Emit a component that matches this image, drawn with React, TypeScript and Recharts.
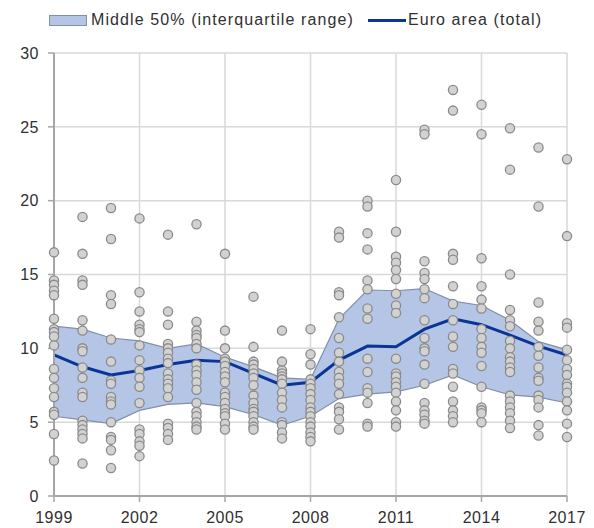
import { ComposedChart, Area, Line, Scatter, XAxis, YAxis, CartesianGrid } from "recharts";

const C = {
  band: "#b4c5e6",
  bandEdge: "#8090aa",
  euro: "#0a3597",
  grid: "#d9d9d9",
  axis: "#a6a6a6",
  dotFill: "#d2d2d2",
  dotEdge: "#8a8a8a",
  text: "#303030",
};

const years = [1999, 2000, 2001, 2002, 2003, 2004, 2005, 2006, 2007, 2008, 2009, 2010, 2011, 2012, 2013, 2014, 2015, 2016, 2017];
const xTicks = [1999, 2002, 2005, 2008, 2011, 2014, 2017];
const yTicks = [0, 5, 10, 15, 20, 25, 30];

const lowerQuartile = [5.4, 5.15, 4.9, 5.8, 6.2, 6.3, 6.05, 5.5, 4.8, 5.4, 6.6, 6.9, 7.05, 7.5, 8.2, 7.4, 6.85, 6.7, 6.3];
const upperQuartile = [11.5, 11.3, 10.7, 10.5, 10.0, 10.3, 9.4, 8.75, 8.0, 7.9, 12.0, 13.95, 13.9, 14.05, 13.2, 12.9, 11.9, 10.45, 9.9];
const euroArea = [9.55, 8.75, 8.2, 8.5, 8.9, 9.2, 9.1, 8.3, 7.5, 7.7, 9.2, 10.15, 10.1, 11.3, 12.0, 11.6, 10.9, 10.15, 9.55];

// one list of country values per year
const countryValues = [
  [16.5, 14.6, 14.3, 13.9, 13.6, 12.0, 11.3, 11.1, 10.8, 10.2, 8.6, 8.0, 7.3, 6.7, 5.7, 5.5, 4.2, 2.4],
  [18.9, 16.4, 14.6, 14.3, 11.9, 11.2, 10.0, 9.8, 8.7, 8.0, 7.0, 6.7, 5.1, 4.8, 4.5, 4.2, 3.9, 2.2],
  [19.5, 17.4, 13.6, 13.0, 10.6, 9.1, 7.8, 7.6, 6.7, 6.4, 6.2, 5.0, 4.0, 3.8, 3.1, 1.9],
  [18.8, 13.8, 12.5, 11.6, 11.3, 11.1, 10.2, 9.2, 8.5, 8.0, 7.4, 6.3, 4.5, 4.2, 3.7, 3.4, 2.7],
  [17.7, 12.5, 11.6, 10.3, 10.0, 9.7, 9.3, 9.0, 8.3, 7.9, 7.6, 7.3, 6.7, 4.9, 4.6, 4.2, 3.8],
  [18.4, 11.8, 11.2, 10.9, 10.7, 10.3, 10.0, 8.9, 8.5, 8.2, 7.7, 7.2, 6.3, 5.7, 5.4, 5.0, 4.7, 4.5],
  [16.4, 11.2, 10.0, 9.3, 9.1, 8.8, 8.4, 8.1, 7.7, 7.0, 6.7, 6.3, 5.9, 5.6, 5.4, 4.9, 4.5],
  [13.5, 10.1, 9.1, 8.9, 8.6, 8.3, 8.0, 7.5, 6.8, 6.3, 5.9, 5.7, 5.4, 5.0, 4.7, 4.5],
  [11.2, 9.1, 8.5, 8.3, 8.1, 7.9, 7.6, 7.0, 6.5, 6.0, 5.0, 4.8, 4.3, 3.9],
  [11.3, 9.6, 8.9, 7.9, 7.6, 7.3, 6.9, 6.5, 6.0, 5.7, 5.4, 5.0, 4.7, 4.3, 4.0, 3.7],
  [17.9, 17.5, 13.8, 13.6, 12.1, 10.7, 9.7, 9.1, 8.4, 8.0, 7.6, 6.9, 6.0, 5.7, 5.2, 4.5],
  [20.0, 19.6, 17.8, 16.7, 14.6, 14.0, 12.7, 12.0, 9.3, 8.4, 7.3, 7.0, 6.3, 4.9, 4.7],
  [21.4, 17.9, 16.2, 15.8, 15.3, 14.7, 13.7, 12.9, 12.4, 9.3, 8.3, 8.1, 7.7, 7.4, 7.0, 6.4, 5.8, 5.0, 4.7],
  [24.8, 24.5, 15.9, 15.1, 14.7, 14.0, 13.4, 11.9, 10.7, 10.0, 9.8, 8.9, 7.6, 6.3, 5.8, 5.5, 5.1, 4.9],
  [27.5, 26.1, 16.4, 16.0, 14.2, 13.0, 11.9, 10.8, 10.1, 8.6, 8.3, 7.4, 6.4, 5.8, 5.4, 5.0],
  [26.5, 24.5, 16.1, 14.2, 13.3, 12.7, 11.3, 10.7, 10.1, 9.7, 8.8, 7.4, 6.0, 5.8, 5.6, 5.0],
  [24.9, 22.1, 15.0, 12.6, 11.9, 11.5, 10.5, 10.0, 9.4, 9.1, 8.7, 8.4, 6.8, 6.4, 6.0, 5.6, 5.1, 4.6],
  [23.6, 19.6, 13.1, 11.8, 11.2, 10.1, 9.5, 8.7, 8.0, 7.8, 6.8, 6.5, 6.0, 4.8, 4.1],
  [22.8, 17.6, 11.7, 11.4, 9.9, 9.2, 8.6, 8.2, 7.6, 7.4, 7.0, 6.4, 5.8, 4.9, 4.0],
];

const chartData = years.map((year, i) => ({
  year,
  band: [lowerQuartile[i], upperQuartile[i]],
  euro: euroArea[i],
}));

const dotData = years.flatMap((year, i) => countryValues[i].map((value) => ({ year, value })));

const font = '"Liberation Sans", Arial, sans-serif';

function Dot(props: any) {
  const { cx, cy } = props;
  if (cx == null || cy == null) return null;
  return <circle cx={cx} cy={cy} r={4.6} fill={C.dotFill} stroke={C.dotEdge} strokeWidth={1.3} />;
}

function LegendRow() {
  return (
    <div
      style={{
        position: "absolute",
        top: 3,
        left: 41,
        display: "flex",
        alignItems: "center",
        fontFamily: font,
        fontSize: 16,
        letterSpacing: "1.1px",
        color: C.text,
        whiteSpace: "nowrap",
      }}
    >
      <span
        style={{
          display: "inline-block",
          width: 36,
          height: 9,
          background: C.band,
          border: `1px solid ${C.bandEdge}`,
          marginRight: 4,
        }}
      />
      <span>Middle 50% (interquartile range)</span>
      <span
        style={{
          display: "inline-block",
          width: 38,
          height: 3,
          background: C.euro,
          marginLeft: 14,
          marginRight: 2,
        }}
      />
      <span>Euro area (total)</span>
    </div>
  );
}

export default function App() {
  return (
    <div style={{ position: "relative", width: 580, height: 520 }}>
      <LegendRow />
      <ComposedChart
        width={580}
        height={520}
        data={chartData}
        margin={{ top: 45, right: 21, left: 0, bottom: 2 }}
      >
        <CartesianGrid stroke={C.grid} strokeWidth={1.5} />
        <XAxis
          dataKey="year"
          type="number"
          domain={[1999, 2017]}
          ticks={xTicks}
          interval={0}
          height={30}
          tickSize={6}
          tickMargin={10}
          axisLine={{ stroke: C.axis, strokeWidth: 2 }}
          tickLine={{ stroke: C.axis, strokeWidth: 1.5 }}
          tick={{ fill: C.text, fontSize: 16, fontFamily: font, letterSpacing: 0.5 }}
        />
        <YAxis
          type="number"
          domain={[0, 30]}
          ticks={yTicks}
          interval={0}
          width={46}
          tickSize={6}
          tickMargin={9}
          axisLine={{ stroke: C.axis, strokeWidth: 2 }}
          tickLine={{ stroke: C.axis, strokeWidth: 1.5 }}
          tick={{ fill: C.text, fontSize: 16, fontFamily: font, letterSpacing: 0.5 }}
        />
        <Area
          dataKey="band"
          type="linear"
          fill={C.band}
          fillOpacity={1}
          stroke={C.bandEdge}
          strokeWidth={1.2}
          isAnimationActive={false}
        />
        <Line
          dataKey="euro"
          type="linear"
          stroke={C.euro}
          strokeWidth={3}
          dot={false}
          isAnimationActive={false}
        />
        <Scatter data={dotData} dataKey="value" shape={<Dot />} isAnimationActive={false} />
      </ComposedChart>
    </div>
  );
}
